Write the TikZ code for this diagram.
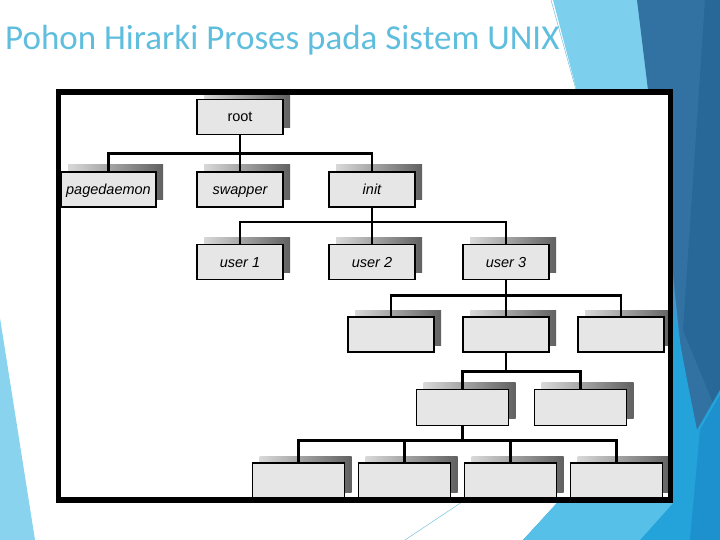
\documentclass[tikz,border=0pt]{standalone}
\usepackage{fontspec}
\setmainfont{Liberation Sans}
\newfontfamily\titlefont{Carlito}
\usetikzlibrary{positioning,calc,shadows}

\definecolor{facetdark}{RGB}{50,114,162}
\definecolor{facetdeep}{RGB}{40,104,152}
\definecolor{facetlight}{RGB}{125,207,238}
\definecolor{facetleft}{RGB}{137,211,238}
\definecolor{facetmid}{RGB}{62,150,210}
\definecolor{facetbright}{RGB}{36,162,218}
\definecolor{facetsky}{RGB}{86,192,232}
\definecolor{facetdeepbright}{RGB}{28,145,205}
\definecolor{facetline}{RGB}{120,195,215}
\definecolor{titleblue}{RGB}{95,190,222}
\definecolor{boxgray}{RGB}{230,230,230}

\newcommand\boxsize{\fontsize{14.5}{16}\selectfont}

\begin{document}
\begin{tikzpicture}[x=1pt, y=-1pt,
    box/.style={draw, line width=1.8pt, fill=boxgray, minimum width=86pt, minimum height=35pt,
      inner sep=0pt, outer sep=0pt, text height=12.5pt, text depth=2.5pt, font=\boxsize,
      general shadow={shadow xshift=7pt, shadow yshift=7pt, left color=black!15, right color=black!62}},
    proc/.style={box, font=\boxsize\itshape},
    wide/.style={minimum width=92pt, minimum height=36pt},
    link/.style={line width=2.8pt},
    node distance=37.5pt and 46pt
  ]
  \useasboundingbox (0,0) rectangle (720,540);

  % slide background
  \fill[facetlight] (553,0) -- (638,0) -- (662,180) -- (600,180) -- cycle;
  \fill[facetdark] (637,0) -- (720,0) -- (720,540) -- (648,540) -- (648,90) -- cycle;
  \fill[facetdeep] (705,0) -- (720,0) -- (720,420) -- (683,330) -- cycle;
  \fill[facetmid] (672,265) -- (684,380) -- (672,380) -- cycle;
  \fill[facetbright] (672,300) -- (687,380) -- (697,430) -- (720,390) -- (720,540)
    -- (523,540) -- (557,503) -- (672,503) -- cycle;
  \fill[facetsky] (523,540) -- (557,503) -- (673,503) -- (640,540) -- cycle;
  \fill[facetdeepbright] (700,430) -- (720,395) -- (720,540) -- (690,540) -- cycle;
  \fill[facetleft] (0,318) -- (35,540) -- (0,540) -- cycle;
  \draw[facetline, line width=0.5pt] (551,0) -- (576,90);
  \draw[facetline, line width=0.5pt] (405,540) -- (462,502);

  \node[anchor=base west, text=titleblue, inner sep=0pt,
    font=\titlefont\fontsize{35}{38}\selectfont] (title) at (5,50)
    {Pohon Hirarki Proses pada Sistem UNIX};

  \fill[white] (58.5,92) rectangle (670.5,500);
  \begin{scope}
    \clip (61,94.5) rectangle (668,497.5);
    \node[box] (root) at (240,117) {root};
    \node[proc, below=of root] (swapper) {swapper};
    \node[proc, left=41pt of swapper, minimum width=95pt] (pagedaemon) {pagedaemon};
    \node[proc, right=of swapper] (init) {init};
    \node[proc, below=of swapper] (user1) {user 1};
    \node[proc, below=of init] (user2) {user 2};
    \node[proc, right=48pt of user2] (user3) {user 3};
    \node[box, below=of user3] (child2) {};
    \node[box, left=29pt of child2] (child1) {};
    \node[box, right=29pt of child2] (child3) {};
    \node[box, wide, below=of child2, xshift=-43.5pt] (grand1) {};
    \node[box, wide, right=26pt of grand1] (grand2) {};
    \node[box, wide, below=37.5pt of grand1, xshift=48pt] (leaf3) {};
    \node[box, wide, left=14pt of leaf3] (leaf2) {};
    \node[box, wide, left=14pt of leaf2] (leaf1) {};
    \node[box, wide, right=14pt of leaf3] (leaf4) {};

    \coordinate (bus4) at ($(child2.south)!.53!(child2.south |- grand1.north)$);
    \coordinate (bus5) at ($(grand1.south)!.4!(grand1.south |- leaf1.north)$);

    \draw[link] (root) -- (swapper);
    \draw[link] (pagedaemon.north) |- ($(root.south)!.5!(swapper.north)$) -| (init.north);
    \draw[link] (init) -- (user2);
    \draw[link] (user1.north) |- ($(init.south)!.4!(user2.north)$) -| (user3.north);
    \draw[link] (user3) -- (child2);
    \draw[link] (child1.north) |- ($(user3.south)!.42!(child2.north)$) -| (child3.north);
    \draw[link] (child2.south) -- (bus4);
    \draw[link] (grand1.north) |- (bus4) -| (grand2.north);
    \draw[link] (grand1.south) -- (bus5);
    \draw[link] (leaf1.north) |- (bus5) -| (leaf4.north);
    \draw[link] (leaf2.north) -- (leaf2.north |- bus5);
    \draw[link] (leaf3.north) -- (leaf3.north |- bus5);
  \end{scope}
  \draw[line width=5.5pt] (58.5,92) rectangle (670.5,500);
\end{tikzpicture}
\end{document}
